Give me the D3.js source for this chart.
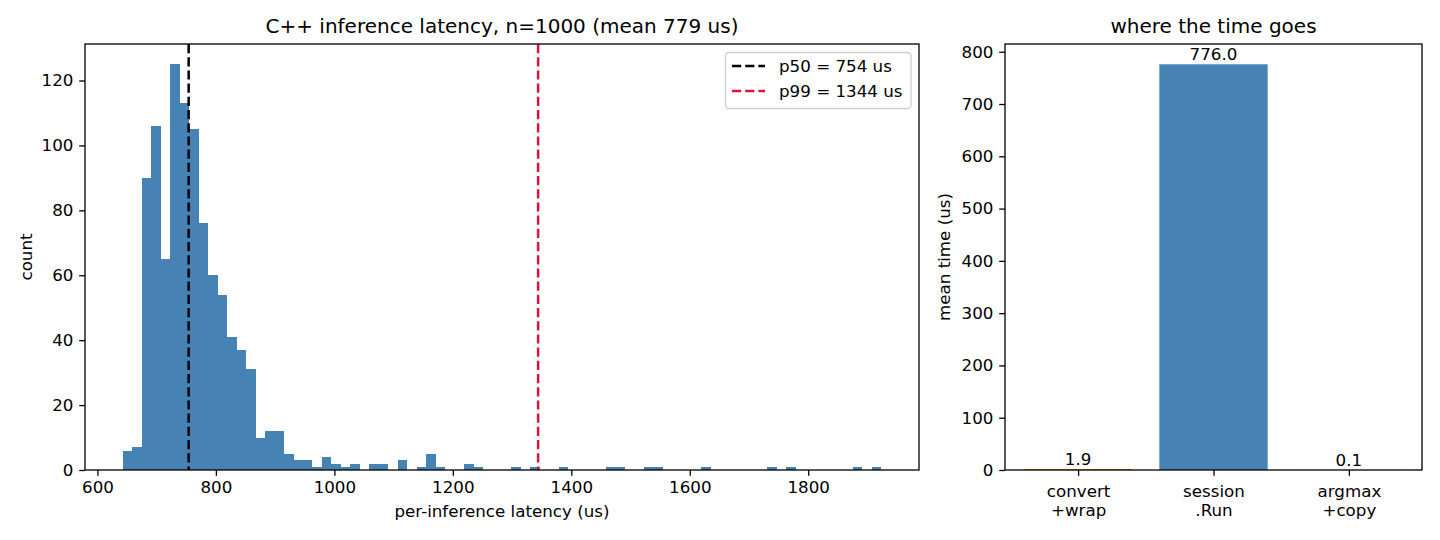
<!DOCTYPE html>
<html>
<head>
<meta charset="utf-8">
<script src="https://cdnjs.cloudflare.com/ajax/libs/d3/7.8.5/d3.min.js"></script>
<style>
	body { margin: 0; background: #fff; }
	svg text { font-family: "DejaVu Sans", sans-serif; fill: #000; }
</style>
</head>
<body>
<svg id="chart" width="1440" height="540"></svg>
<script>
	// histogram: 80 bins of 16 us starting at 643 us
	var binStart = 643;
	var binWidth = 16;
	var counts = [6, 7, 90, 106, 65, 125, 113, 105, 76, 60,
		54, 41, 37, 31, 10, 12, 12, 5, 3, 3,
		1, 4, 2, 1, 2, 0, 2, 2, 0, 3,
		0, 1, 5, 1, 0, 0, 2, 1, 0, 0,
		0, 1, 0, 1, 0, 0, 1, 0, 0, 0,
		0, 1, 1, 0, 0, 1, 1, 0, 0, 0,
		0, 1, 0, 0, 0, 0, 0, 0, 1, 0,
		1, 0, 0, 0, 0, 0, 0, 1, 0, 1];
	var latTicks = [600, 800, 1000, 1200, 1400, 1600, 1800];
	var countTicks = [0, 20, 40, 60, 80, 100, 120];
	var pLabels = ["p50 = 754 us", "p99 = 1344 us"];
	var pValues = [754, 1344];
	var pColors = ["#000000", "crimson"];

	// breakdown
	var stages = ["convert\n+wrap", "session\n.Run", "argmax\n+copy"];
	var stageTimes = [1.9, 776.0, 0.1];
	var stageColors = ["darkorange", "steelblue", "seagreen"];
	var timeTicks = [0, 100, 200, 300, 400, 500, 600, 700, 800];

	var svg = d3.select('#chart');
	var fs = '16.7px';
	var tickLen = 5.8;
	var dash = '9.2,4';

	function frame(g, x0, x1, y0, y1) {
		g.append('rect').attr('x', x0).attr('y', y0)
			.attr('width', x1 - x0).attr('height', y1 - y0)
			.attr('fill', 'none').attr('stroke', '#000').attr('stroke-width', 1.3);
	}

	function styleAxis(sel) {
		sel.select('.domain').remove();
		sel.selectAll('line').attr('stroke', '#000').attr('stroke-width', 1.3);
		sel.selectAll('text').attr('font-size', fs).attr('fill', '#000')
			.attr('font-family', '"DejaVu Sans", sans-serif');
	}

	/* ---------- left: histogram ---------- */
	var L = {x0: 85, x1: 919, y0: 44, y1: 470};
	var lo = binStart, hi = binStart + binWidth * counts.length;
	var pad = (hi - lo) * 0.05;
	var x = d3.scaleLinear().domain([lo - pad, hi + pad]).range([L.x0, L.x1]);
	var y = d3.scaleLinear().domain([0, d3.max(counts) * 1.05]).range([L.y1, L.y0]);

	var left = svg.append('g');

	left.selectAll('rect.bin')
		.data(counts)
		.enter()
		.append('rect')
		.attr('class', 'bin')
		.attr('x', function (d, i) { return x(binStart + i * binWidth); })
		.attr('width', function (d, i) { return x(binStart + (i + 1) * binWidth) - x(binStart + i * binWidth); })
		.attr('y', function (d) { return y(d); })
		.attr('height', function (d) { return y(0) - y(d); })
		.attr('fill', 'steelblue')
		.attr('shape-rendering', 'crispEdges');

	left.selectAll('line.pct')
		.data(pValues)
		.enter()
		.append('line')
		.attr('class', 'pct')
		.attr('x1', function (d) { return x(d); })
		.attr('x2', function (d) { return x(d); })
		.attr('y1', L.y0).attr('y2', L.y1)
		.attr('stroke', function (d, i) { return pColors[i]; })
		.attr('stroke-width', 2.5)
		.attr('stroke-dasharray', dash);

	left.append('g').attr('transform', 'translate(0,' + L.y1 + ')')
		.call(d3.axisBottom(x).tickValues(latTicks).tickFormat(d3.format('d')).tickSize(tickLen).tickPadding(5.8))
		.call(styleAxis);
	left.append('g').attr('transform', 'translate(' + L.x0 + ',0)')
		.call(d3.axisLeft(y).tickValues(countTicks).tickFormat(d3.format('d')).tickSize(tickLen).tickPadding(5.8))
		.call(styleAxis);
	frame(left, L.x0, L.x1, L.y0, L.y1);

	left.append('text').attr('x', (L.x0 + L.x1) / 2).attr('y', 33)
		.attr('text-anchor', 'middle').attr('font-size', '20px')
		.text('C++ inference latency, n=1000 (mean 779 us)');
	left.append('text').attr('x', (L.x0 + L.x1) / 2).attr('y', 516.5)
		.attr('text-anchor', 'middle').attr('font-size', fs)
		.text('per-inference latency (us)');
	left.append('text').attr('transform', 'translate(32,' + (L.y0 + L.y1) / 2 + ') rotate(-90)')
		.attr('text-anchor', 'middle').attr('font-size', fs)
		.text('count');

	// legend
	var lg = left.append('g').attr('transform', 'translate(725,52)');
	lg.append('rect').attr('x', 0.5).attr('y', 0.5).attr('width', 185.5).attr('height', 56).attr('rx', 3.5)
		.attr('fill', '#fff').attr('fill-opacity', 0.8)
		.attr('stroke', '#d0d0d0').attr('stroke-width', 1.3);
	var item = lg.selectAll('g.item')
		.data(pLabels)
		.enter()
		.append('g')
		.attr('transform', function (d, i) { return 'translate(0,' + (14 + i * 25) + ')'; });
	item.append('line').attr('x1', 7).attr('x2', 40).attr('y1', 0).attr('y2', 0)
		.attr('stroke', function (d, i) { return pColors[i]; })
		.attr('stroke-width', 2.5).attr('stroke-dasharray', dash);
	item.append('text').attr('x', 54).attr('y', 6).attr('font-size', fs)
		.text(function (d) { return d; });

	/* ---------- right: breakdown ---------- */
	var R = {x0: 1005, x1: 1422, y0: 44, y1: 470};
	var bw = 0.8;
	var xr = d3.scaleLinear().domain([-bw / 2 - 0.14, stages.length - 1 + bw / 2 + 0.14]).range([R.x0, R.x1]);
	var yr = d3.scaleLinear().domain([0, d3.max(stageTimes) * 1.05]).range([R.y1, R.y0]);

	var right = svg.append('g');

	right.selectAll('rect.stage')
		.data(stageTimes)
		.enter()
		.append('rect')
		.attr('class', 'stage')
		.attr('x', function (d, i) { return xr(i - bw / 2); })
		.attr('width', xr(bw) - xr(0))
		.attr('y', function (d) { return yr(d); })
		.attr('height', function (d) { return yr(0) - yr(d); })
		.attr('fill', function (d, i) { return stageColors[i]; });

	right.selectAll('text.val')
		.data(stageTimes)
		.enter()
		.append('text')
		.attr('class', 'val')
		.attr('x', function (d, i) { return xr(i); })
		.attr('y', function (d) { return yr(d) - 4; })
		.attr('text-anchor', 'middle').attr('font-size', fs)
		.text(function (d) { return d.toFixed(1); });

	right.append('g').attr('transform', 'translate(' + R.x0 + ',0)')
		.call(d3.axisLeft(yr).tickValues(timeTicks).tickFormat(d3.format('d')).tickSize(tickLen).tickPadding(5.8))
		.call(styleAxis);

	var xa = right.append('g').attr('transform', 'translate(0,' + R.y1 + ')')
		.call(d3.axisBottom(xr).tickValues(d3.range(stages.length)).tickSize(tickLen).tickFormat(''))
		.call(styleAxis);
	xa.selectAll('.tick').append('text')
		.attr('text-anchor', 'middle').attr('font-size', fs).attr('fill', '#000')
		.attr('font-family', '"DejaVu Sans", sans-serif')
		.selectAll('tspan')
		.data(function (d) { return stages[d].split('\n'); })
		.enter()
		.append('tspan')
		.attr('x', 0)
		.attr('y', function (d, i) { return 26.5 + i * 19.5; })
		.text(function (d) { return d; });
	frame(right, R.x0, R.x1, R.y0, R.y1);

	right.append('text').attr('x', (R.x0 + R.x1) / 2).attr('y', 33)
		.attr('text-anchor', 'middle').attr('font-size', '20px')
		.text('where the time goes');
	right.append('text').attr('transform', 'translate(950,' + (R.y0 + R.y1) / 2 + ') rotate(-90)')
		.attr('text-anchor', 'middle').attr('font-size', fs)
		.text('mean time (us)');
</script>
</body>
</html>
